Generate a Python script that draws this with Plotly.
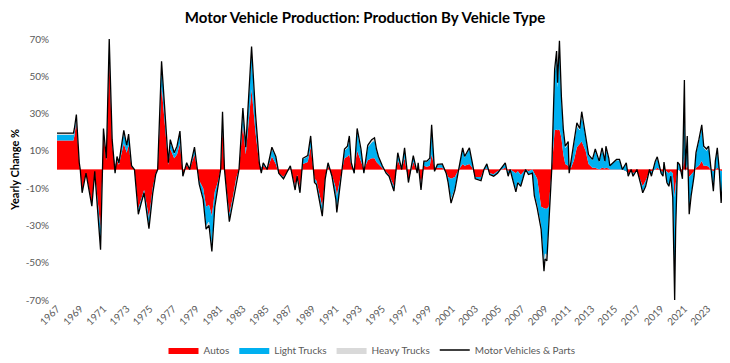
import plotly.graph_objects as go

dates = ["1967-01","1968-06","1968-07","1968-09","1968-12","1969-01","1969-03","1969-07","1970-01","1970-04",
"1970-10","1971-01","1971-04","1971-07","1971-10","1972-01","1972-03","1972-05","1972-10","1973-01",
"1973-03","1973-06","1973-09","1974-01","1974-04","1974-07","1974-12","1975-04","1975-07","1975-09",
"1976-01","1976-04","1976-08","1976-10","1977-02","1977-05","1977-08","1977-11","1978-03","1978-06",
"1978-11","1979-02","1979-04","1979-08","1979-11","1980-02","1980-05","1980-08","1980-11","1981-02",
"1981-04","1981-06","1981-11","1982-03","1982-06","1982-09","1983-01","1983-04","1983-10","1984-02",
"1984-06","1984-08","1984-10","1985-02","1985-07","1985-11","1986-02","1986-07","1987-02","1987-07",
"1987-09","1987-12","1988-03","1988-08","1988-11","1989-03","1989-05","1989-11","1990-02","1990-05",
"1990-09","1991-01","1991-02","1991-06","1991-10","1992-01","1992-03","1992-05","1992-08","1992-11",
"1993-03","1993-06","1993-10","1994-02","1994-05","1994-07","1994-09","1995-01","1995-05","1995-08",
"1996-01","1996-05","1996-09","1996-12","1997-04","1997-09","1998-01","1998-02","1998-05","1998-08",
"1998-11","1999-02","1999-04","1999-07","1999-10","2000-03","2000-07","2000-09","2000-12","2001-04",
"2001-08","2001-12","2002-02","2002-07","2002-10","2003-01","2003-07","2003-10","2004-01","2004-04",
"2004-08","2004-12","2005-08","2005-11","2006-01","2006-07","2006-09","2006-12","2007-05","2007-08",
"2007-12","2008-02","2008-05","2008-09","2008-12","2009-01","2009-03","2009-05","2009-08","2009-11",
"2010-01","2010-02","2010-04","2010-06","2010-08","2010-10","2011-01","2011-02","2011-04","2011-07",
"2011-10","2012-01","2012-03","2012-07","2012-10","2013-02","2013-05","2013-09","2013-12","2014-03",
"2014-04","2014-07","2014-08","2015-03","2015-06","2015-09","2016-01","2016-03","2016-06","2016-08",
"2016-12","2017-04","2017-06","2017-09","2018-01","2018-03","2018-07","2018-09","2019-01","2019-03",
"2019-04","2019-07","2019-09","2019-11","2020-01","2020-03","2020-04","2020-06","2020-08","2020-11",
"2021-01","2021-02","2021-04","2021-06","2021-08","2021-11","2022-01","2022-04","2022-07","2022-09",
"2022-12","2023-02","2023-04","2023-07","2023-09","2023-11","2024-01","2024-03","2024-06","2024-08"]

total = [19.5,19.5,22,29.5,3.6,0,-12.5,-2,-19.7,-1,
-43,22,6,70,16,-2,7,3.6,21,13,
19,2,0,-24,-18,-12.5,-31.7,-12.5,-2.7,0,
58,34,3.6,16,9,12.5,20.6,-3.6,3.6,0,
12,0,-8,-16,-32,-30,-44,-20,-11,0,
31,0,-28,-16,-7,0,33,12,66,30,
3.6,-2,3.6,0,12,7,-2,-5,2,-11,
-3.6,-12.5,6,7.5,18,-7,-8,-25,-5,3.6,
-3.6,-16,-23,-7,11,12.5,18,3.6,-2,22,
11,-2,13,16,17,11,7,2,-2,-3.6,
-11.6,9,0,11.6,-7,7.5,-2,3.6,-11,4.5,
4.5,6,24,-1,2.7,3,-2,-7,-18,-11,
1,11.6,7,11.6,3.6,-5,-6,0,3,-2.7,
-3.6,-2,3.6,-3.6,0,-12,-7,-9,0,-2.7,
-2,-14,-20.6,-32,-54.6,-48,-49,-32,0,53.7,
63.5,46.5,69,39,21.5,12.5,15,-2,4.5,14,
25,22,31,18,8,5.4,11,4.5,11.6,4.5,
12.5,6,2,5.4,5.4,0,3.6,-3.6,0,-3.6,
0,-8,-12.5,-9,0,-3.6,4.5,6.8,-2,-3.6,
4,-7,-9,-3.6,-15,-70,-32,4,2.7,-5,
48,0,18,-24,-14,-3.6,9,16,24,12.5,
11,12.5,3.6,-11.6,4.5,11.6,0,-18,6,-5]

autos = [15.6,15.6,18,26,3,0,-11.5,-2,-18.5,-1,
-32,20,5,62,13,2,5,2.5,14,9,
13,1.5,0,-21,-16,-11,-26,-9.5,-2,0,
44.7,28,2.5,11,6,8,14,-3,2.5,0,
8,0,-6,-10,-20,-19,-25,-12,-7,0,
22,0,-24,-14,-5,0,24,8,43,20,
2.5,1,2,0,7,3,-2,-4,1,-9,
-3,-10,3,4,12,-5,-6,-20,-4,2,
-3,-10,-14,-4,6,7,8,2,0,10,
4,0,5,6,6,4,3,1,-1.5,-3,
-9,5,0,6,-6,4,-1,2,-8,2,
1.5,2,8,1,1,1,-1.5,-4,-5,-4,
0,3,2,3,1,-4,-4,0,0.5,-2,
-2.5,-1,1,-1,0,-2,-1,-3,0,-1,
0,-2,-5,-20,-21,-21,-21,-20,0,21,
21.5,21,21.5,17,8,3,2,1,1,5,
12,14,15,10,3,1,1,0,1,0.5,
1,0.5,0,0,0,0,-1,-2,-1,-2,
-1,-6,-9,-6,-1,-1,0,1,-1,-1.5,
0,-1.5,-2,-1,-2,-15,-8,0,-0.5,-2,
8,-1,3,-4,-3,-1,1,2,4.5,2,
2,1.5,0,-1,0,1,0,-1,0.5,-1]

light_trucks = [3.0,3.0,3,2.5,0.5,0,-0.8,0,-1,0,
-10,1.5,1,7,2,-4,1.5,1,6,3.5,
5,0.5,0,-2.5,-1.8,-1.2,-5,-2.5,-0.5,0,
12,5,1,4,2.5,3.5,5.5,-0.5,1,0,
3,0,-2,-5,-10,-9,-16,-7,-3.5,0,
7.5,0,-3,-1.5,-1.5,0,7.5,3,20,8,
1,-3,1.5,0,4,3.5,0,-1,1,-1.5,
-0.5,-2,2.5,3,5,-1.5,-1.5,-4,-1,1.5,
-0.5,-5,-8,-2.5,4,4.5,8.5,1.5,-2,10,
6,-2,7,8.5,9.5,6,3.5,1,-0.5,-0.5,
-2,3.5,0,5,-0.8,3,-1,1.5,-2.5,2,
2.5,3.5,14,-2,1.5,1.7,-0.5,-2.5,-11,-6,
1,8,4.5,8,2.5,-1,-1.5,0,2,-0.5,
-1,-1,2.5,-2.5,0,-9,-5.5,-5.5,0,-1.5,
-2,-11,-14,-10,-30,-24,-25,-10,0,30,
39,23,44,20,12,8.5,11.5,-3,3,8,
11,7,14,7,4.5,4,9,4,9.6,3.5,
10,5,2,5,5,0,4.3,-1.5,1,-1.5,
1,-2,-3,-2.5,1,-2.5,4,5,-1,-2,
3.6,-5,-6.5,-2.5,-12,-50,-22,3.6,3,-3,
37,1,14,-18,-10,-2.5,7,13,17.5,9.5,
8,10,3.2,-10,4,9.6,0,-16,5,-3.5]

heavy_trucks = [0.9,0.9,1,1,0.1,0,-0.2,0,-0.2,0,
-1,0.5,0,1,1,0,0.5,0.1,1,0.5,
1,0,0,-0.5,-0.2,-0.3,-0.7,-0.5,-0.2,0,
1.3,1,0.1,1,0.5,1,1.1,-0.1,0.1,0,
1,0,0,-1,-2,-2,-3,-1,-0.5,0,
1.5,0,-1,-0.5,-0.5,0,1.5,1,3,2,
0.1,0,0.1,0,1,0.5,0,0,0,-0.5,
-0.1,-0.5,0.5,0.5,1,-0.5,-0.5,-1,0,0.1,
-0.1,-1,-1,-0.5,1,1,1.5,0.1,0,2,
1,0,1,1.5,1.5,1,0.5,0,0,-0.1,
-0.6,0.5,0,0.6,-0.2,0.5,0,0.1,-0.5,0.5,
0.5,0.5,2,0,0.2,0.3,0,-0.5,-2,-1,
0,0.6,0.5,0.6,0.1,0,-0.5,0,0.5,-0.2,
-0.1,0,0.1,-0.1,0,-1,-0.5,-0.5,0,-0.2,
0,-1,-1.6,-2,-3.6,-3,-3,-2,0,2.7,
3,2.5,3.5,2,1.5,1,1.5,0,0.5,1,
2,1,2,1,0.5,0.4,1,0.5,1,0.5,
1.5,0.5,0,0.4,0.4,0,0.3,-0.1,0,-0.1,
0,0,-0.5,-0.5,0,-0.1,0.5,0.8,0,-0.1,
0.4,-0.5,-0.5,-0.1,-1,-5,-2,0.4,0.2,0,
3,0,1,-2,-1,-0.1,1,1,2,1,
1,1,0.4,-0.6,0.5,1,0,-1,0.5,-0.5]

y_ticks = [70, 50, 30, 10, -10, -30, -50, -70]
y_tick_text = ["70%", "50%", "30%", "10%", "-10%", "-30%", "-50%", "-70%"]

# the page body adds an 8px offset; figure coordinates below are screen - 8
W, H = 722, 355
FONT = "Lato"
fig = go.Figure()
fig.add_trace(go.Scatter(x=dates, y=autos, name="Autos", stackgroup="one", mode="lines",
                         line=dict(width=0, color="#FF0000"), fillcolor="#FF0000"))
fig.add_trace(go.Scatter(x=dates, y=light_trucks, name="Light Trucks", stackgroup="one", mode="lines",
                         line=dict(width=0, color="#00B0F0"), fillcolor="#00B0F0"))
fig.add_trace(go.Scatter(x=dates, y=heavy_trucks, name="Heavy Trucks", stackgroup="one", mode="lines",
                         line=dict(width=0, color="#D9D9D9"), fillcolor="#D9D9D9"))
fig.add_trace(go.Scatter(x=dates, y=total, name="Motor Vehicles & Parts", mode="lines",
                         line=dict(width=1.3, color="#000000")))

fig.update_layout(
    width=W, height=H,
    margin=dict(l=49, r=4, t=31, b=63, autoexpand=False),
    paper_bgcolor="white", plot_bgcolor="white",
    font=dict(family=FONT, color="#595959", size=10),
    title=dict(text="<b>Motor Vehicle Production: Production By Vehicle Type</b>",
               x=357/W, xanchor="center", xref="container", y=1 - 4/H, yanchor="top", yref="container",
               pad=dict(t=0, b=0, l=0, r=0),
               font=dict(family=FONT, size=15, color="#000000")),
    showlegend=True,
    legend=dict(orientation="h", x=364/W, xanchor="center", xref="container",
                y=1 - 342/H, yanchor="middle", yref="container",
                font=dict(family=FONT, size=10, color="#595959"), traceorder="normal",
                itemwidth=30),
    xaxis=dict(type="date", range=["1967-01-01", "2024-08-01"], tickformat="%Y",
               dtick="M24", tick0="1967-01-01", tickangle=-45, showgrid=False, automargin=False,
               showline=False, zeroline=False, ticks="", tickfont=dict(size=10, color="#595959")),
    yaxis=dict(range=[-70, 70], tickvals=y_ticks, ticktext=y_tick_text, showgrid=False,
               automargin=False, ticklabelstandoff=7,
               zeroline=True, zerolinecolor="#FFB0B0", zerolinewidth=1, showline=False,
               title=dict(text="<b>Yearly Change %</b>", standoff=10,
                          font=dict(family=FONT, size=11, color="#000000")),
               tickfont=dict(size=10, color="#595959")),
)

fig.write_html("out.html")
